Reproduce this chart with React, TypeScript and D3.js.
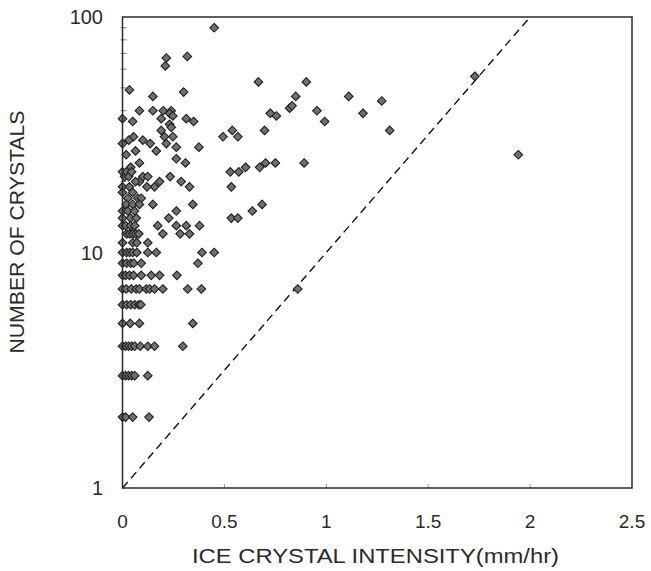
import React from "react";
import * as d3 from "d3";

// Scattered points (intensity mm/hr, number of crystals), mostly N >= 12
const upperIntensity = [
  0.45, 0.215, 0.21, 0.318, 0.034, 0.149, 0.3, 0.667, 0.902, 1.11, 1.18, 1.272, 1.311, 1.729, 1.942,
  0, 0.083, 0.149, 0.2, 0.239, 0.05, 0.19, 0.231, 0.247, 0.231, 0.239, 0.313, 0.349, 0.19,
  0.054, 0.206, 0.247, 0.031, 0.1, 0.136, 0.215, 0, 0.264, 0.375, 0.166, 0.064, 0.018,
  0.264, 0.309, 0.083, 0.04, 0, 0.01, 0.02, 0.03, 0.045, 0.1, 0.124, 0.083, 0.064, 0.234,
  0.288, 0.329, 0.182, 0.157, 0.12, 0, 0, 0.034, 0.05,
  0.529, 0.571, 0.604, 0.673, 0.702, 0.75, 0.891, 0.534, 0.493, 0.539, 0.566, 0.697,
  0.725, 0.755, 0.82, 0.832, 0.85, 0.954, 0.992, 0.637, 0.685, 0.534, 0.566,
  0.026, 0.075, 0.092, 0.018, 0.05, 0.083, 0.149, 0.345, 0.264, 0, 0.026, 0.059,
  0, 0.039, 0.068, 0.227, 0, 0.016, 0.04, 0.06, 0.173, 0.264, 0.313, 0.378,
  0.02, 0.035, 0.05, 0.065, 0.08, 0.198, 0.283, 0.329,
];
const upperCrystals = [
  90, 67, 62, 68, 49, 46, 48, 53, 53, 46, 39, 44, 33, 56, 26,
  37, 40, 40, 40, 40, 36, 37, 39, 38, 35, 34, 37, 36, 33,
  31, 31, 31, 30, 30, 29, 29, 29, 28, 28, 27, 27, 26,
  25, 24, 24, 23, 22, 21, 22, 21, 22, 21, 21, 20, 20, 21,
  20, 19, 20, 19, 19, 19, 18, 19, 18,
  22, 22, 23, 23, 24, 24, 24, 19, 31, 33, 31, 33,
  39, 38, 41, 42, 46, 40, 36, 15, 16, 14, 14,
  17, 17, 17, 16, 16, 16, 16, 16, 15, 15, 15, 15,
  14, 14, 14, 14, 13, 13, 13, 13, 13, 13, 13, 13,
  12, 12, 12, 12, 12, 12, 12, 12,
];

// Integer rows of low counts
const rowCounts = [11, 10, 9, 8, 7, 6, 5, 4, 3, 2];
const rowIntensities = [
  [0, 0.05, 0.07, 0.124],
  [0, 0.02, 0.035, 0.05, 0.07, 0.124, 0.166, 0.39, 0.45],
  [0, 0.02, 0.04, 0.055, 0.092, 0.37],
  [0, 0.015, 0.034, 0.054, 0.092, 0.141, 0.182, 0.267],
  [0, 0.018, 0.043, 0.067, 0.083, 0.116, 0.133, 0.157, 0.198, 0.32, 0.387, 0.86],
  [0, 0.02, 0.04, 0.06, 0.08, 0.09],
  [0, 0.038, 0.083, 0.345],
  [0, 0.015, 0.03, 0.045, 0.06, 0.087, 0.124, 0.157, 0.296],
  [0, 0.015, 0.03, 0.045, 0.06, 0.124],
  [0, 0.015, 0.05, 0.13],
];

const xTicks = [0, 0.5, 1, 1.5, 2, 2.5];
const xTickLabels = ["0", "0.5", "1", "1.5", "2", "2.5"];
const yTicks = [1, 10, 100];
const yTickLabels = ["1", "10", "100"];
const refLineX = [0, 2];
const refLineY = [1, 100];

const W = 651;
const H = 571;
const FONT = "'Liberation Sans', Arial, sans-serif";
const INK = "#2a2a2a";

export default function App() {
  const x = d3.scaleLinear().domain([0, 2.5]).range([122.5, 632]);
  const y = d3.scaleLog().domain([1, 100]).range([488, 17]);
  const [x0, x1] = x.range();
  const [y0, y1] = y.range();

  const pts: [number, number][] = [];
  upperIntensity.forEach((v, i) => pts.push([v, upperCrystals[i]]));
  rowCounts.forEach((n, i) => rowIntensities[i].forEach((v) => pts.push([v, n])));

  const minor: number[] = [];
  [1, 10].forEach((dec) => {
    for (let k = 2; k <= 9; k++) minor.push(dec * k);
  });

  const line = d3
    .line<number>()
    .x((_, i) => x(refLineX[i]))
    .y((_, i) => y(refLineY[i]));

  const r = 4.3;
  const diamond = (cx: number, cy: number) =>
    `M${cx},${cy - r}L${cx + r},${cy}L${cx},${cy + r}L${cx - r},${cy}Z`;

  return (
    <svg width={W} height={H} style={{ position: "absolute", left: 0, top: 0, background: "#fff" }}>
      <rect x={0} y={0} width={W} height={H} fill="#fff" />
      {/* minor y ticks */}
      {minor.map((m) => (
        <line key={m} x1={x0 - 2} x2={x0 + 4} y1={y(m)} y2={y(m)} stroke="#555" strokeWidth={0.8} />
      ))}
      {/* x ticks */}
      {xTicks.slice(1, -1).map((t) => (
        <line key={t} x1={x(t)} x2={x(t)} y1={y0} y2={y0 - 4} stroke="#777" strokeWidth={0.8} />
      ))}
      {/* reference line */}
      <path
        d={line([0, 1]) || ""}
        fill="none"
        stroke="#111"
        strokeWidth={1.4}
        strokeDasharray="8,5"
      />
      {/* points */}
      {pts.map(([v, n], i) => (
        <path key={i} d={diamond(x(v), y(n))} fill="#707070" stroke="#1e1e1e" strokeWidth={1.1} />
      ))}
      {/* frame */}
      <rect x={x0} y={y1} width={x1 - x0} height={y0 - y1} fill="none" stroke={INK} strokeWidth={1.5} />
      {/* x tick labels */}
      {xTicks.map((t, i) => (
        <text key={t} x={x(t)} y={528} textAnchor="middle" fontFamily={FONT} fontSize={19} fill={INK}>
          {xTickLabels[i]}
        </text>
      ))}
      {/* y tick labels */}
      {yTicks.map((t, i) => (
        <text key={t} x={103} y={y(t) + 7} textAnchor="end" fontFamily={FONT} fontSize={20} fill={INK}>
          {yTickLabels[i]}
        </text>
      ))}
      {/* axis titles */}
      <text
        x={375.5}
        y={563}
        textAnchor="middle"
        fontFamily={FONT}
        fontSize={20}
        fill={INK}
        textLength={367}
        lengthAdjust="spacingAndGlyphs"
      >
        ICE CRYSTAL INTENSITY(mm/hr)
      </text>
      <text
        transform={`translate(24,232) rotate(-90)`}
        textAnchor="middle"
        fontFamily={FONT}
        fontSize={21}
        fill={INK}
        textLength={243}
        lengthAdjust="spacingAndGlyphs"
      >
        NUMBER OF CRYSTALS
      </text>
    </svg>
  );
}
